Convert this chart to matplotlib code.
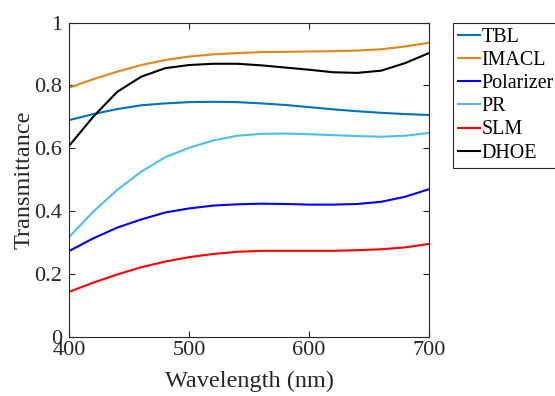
"""
Transmittance vs wavelength for the display components
"""

import numpy as np
import matplotlib
matplotlib.use('Agg')
import matplotlib.pyplot as plt

plt.rcParams['font.family'] = ['Liberation Serif', 'DejaVu Serif']

# wavelength samples (nm)
wavelength = [400, 420, 440, 460, 480, 500, 520, 540,
              560, 580, 600, 620, 640, 660, 680, 700]

# transmittance
tbl = [0.690, 0.709, 0.725, 0.737, 0.743, 0.747, 0.748, 0.747,
       0.743, 0.738, 0.731, 0.724, 0.718, 0.713, 0.709, 0.706]
imacl = [0.793, 0.820, 0.844, 0.865, 0.881, 0.892, 0.899, 0.903,
         0.906, 0.907, 0.908, 0.909, 0.911, 0.915, 0.924, 0.936]
polarizer = [0.274, 0.314, 0.348, 0.374, 0.396, 0.409, 0.418, 0.422,
             0.424, 0.423, 0.421, 0.421, 0.423, 0.430, 0.446, 0.470]
pr = [0.319, 0.399, 0.468, 0.526, 0.572, 0.602, 0.625, 0.640,
      0.646, 0.647, 0.645, 0.642, 0.639, 0.637, 0.640, 0.649]
slm = [0.144, 0.173, 0.199, 0.222, 0.240, 0.254, 0.264, 0.271,
       0.274, 0.274, 0.274, 0.274, 0.276, 0.279, 0.285, 0.296]
dhoe = [0.609, 0.701, 0.780, 0.828, 0.855, 0.865, 0.869, 0.869,
        0.864, 0.857, 0.850, 0.842, 0.840, 0.847, 0.871, 0.903]

labels = ['TBL', 'IMACL', 'Polarizer', 'PR', 'SLM', 'DHOE']
series = [tbl, imacl, polarizer, pr, slm, dhoe]
colors = ['#0072BD', '#E0871B', '#0000FF', '#4DBEEE', '#FF0000', '#000000']

fig = plt.figure(figsize=(5.55, 3.96), dpi=100)
ax = fig.add_axes([0.125, 0.149, 0.648, 0.794])

for y, lab, c in zip(series, labels, colors):
    ax.plot(wavelength, y, color=c, linewidth=1.5, label=lab)

ax.set_xlim(400, 700)
ax.set_ylim(0, 1)
ax.set_xticks([400, 500, 600, 700])
ax.set_yticks([0, 0.2, 0.4, 0.6, 0.8, 1])
ax.set_yticklabels(['0', '0.2', '0.4', '0.6', '0.8', '1'])
ax.tick_params(direction='in', top=True, right=True, length=4, width=0.8,
               labelsize=16, colors='#262626')
ax.tick_params(axis='y', pad=5)
ax.tick_params(axis='x', pad=3)
for s in ax.spines.values():
    s.set_linewidth(0.8)
    s.set_color('#262626')

ax.set_xlabel('Wavelength (nm)', fontsize=17.5, color='#262626', labelpad=8)
ax.set_ylabel('Transmittance', fontsize=17.5, color='#262626', labelpad=0)

leg = ax.legend(loc='upper left', bbox_to_anchor=(452.5 / 555, 1 - 22.7 / 396),
                bbox_transform=fig.transFigure, fontsize=14.4, fancybox=False,
                framealpha=1, edgecolor='#262626', handlelength=1.1,
                handletextpad=0.1, borderpad=0.25, labelspacing=0.21,
                borderaxespad=0)
leg.get_frame().set_linewidth(0.8)

fig.savefig('out.png', dpi=100)
